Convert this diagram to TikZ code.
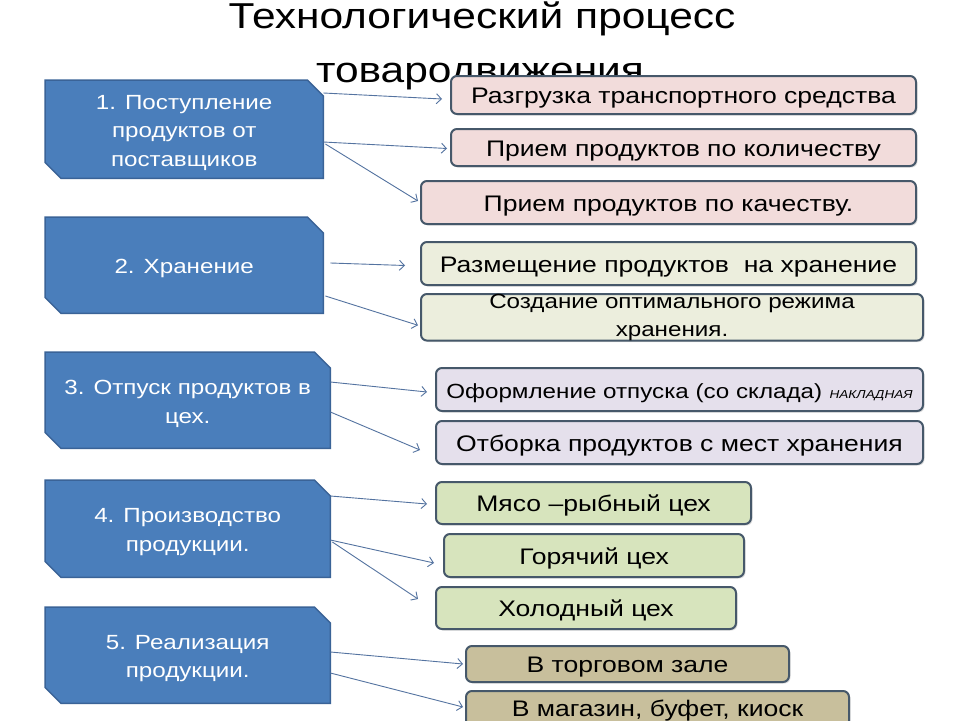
\documentclass[tikz,border=0pt]{standalone}
\usepackage{fontspec}
\setmainfont[FakeStretch=1.18]{Liberation Sans}
\usetikzlibrary{arrows.meta,calc,backgrounds,shadows}
\definecolor{lfill}{HTML}{4A7EBB}
\definecolor{ledge}{HTML}{3A6397}
\definecolor{rborder}{HTML}{46586A}
\definecolor{cpink}{HTML}{F2DCDB}
\definecolor{cbeige}{HTML}{ECEEDD}
\definecolor{clav}{HTML}{E5E0EC}
\definecolor{cgreen}{HTML}{D7E4BD}
\definecolor{ctan}{HTML}{C8BF9C}
\definecolor{carrow}{HTML}{5473A0}
\tikzset{
  lshape/.style={inner sep=0pt, anchor=north west},
  ltext/.style={inner sep=0pt, text=white, align=center,
    font=\fontsize{20.5}{28.5}\selectfont},
  rbox/.style={draw=rborder, line width=2pt, rounded corners=6pt, inner sep=0pt,
    anchor=north west, align=center, font=\fontsize{22.5}{28}\selectfont,
    drop shadow={shadow xshift=1.5pt, shadow yshift=-1.5pt, opacity=0.25}},
  rline/.style={rbox, text height=20pt, text depth=3pt},
  titletext/.style={anchor=base, font=\fontsize{36}{44}\selectfont},
  arr/.style={draw=carrow, line width=0.9pt, -{Straight Barb[length=5pt,width=10pt]}}
}
\newcommand\lbx[6]{% name, x, y, w, h, text
  \node[lshape, minimum width=#4pt, minimum height=#5pt] (#1) at (#2,#3) {};
  \begin{pgfonlayer}{background}
    \fill[lfill, draw=ledge, line width=1.5pt]
      (#1.north west) -- ($(#1.north east)+(-16,0)$) -- ($(#1.north east)+(0,16)$)
      -- (#1.south east) -- ($(#1.south west)+(16,0)$) -- ($(#1.south west)+(0,-16)$) -- cycle;
  \end{pgfonlayer}
  \node[ltext] (#1t) at ($(#1.center)+(0,3.5)$) {#6};}
\newcommand\rbx[7]{% name, colour, x, y, w, h, text
  \node[rline, fill=#2, minimum width=#5pt, minimum height=#6pt] (#1) at (#3,#4) {#7};}
\begin{document}
\begin{tikzpicture}[x=1pt,y=-1pt]
\begin{pgfonlayer}{background}
  \fill[white] (0,0) rectangle (960,720);
\end{pgfonlayer}
\useasboundingbox (0,0) rectangle (960,720);
% title
\node[titletext] (T1) at (482,28) {Технологический процесс};
\node[titletext] (T2) at (480,82) {товародвижения};
% left boxes
\lbx{L1}{45}{80}{278}{98}{1. Поступление\\продуктов от\\поставщиков}
\lbx{L2}{45}{217}{278}{96}{2. Хранение}
\lbx{L3}{45}{352}{285}{96}{3. Отпуск продуктов в\\цех.}
\lbx{L4}{45}{480}{285}{97}{4. Производство\\продукции.}
\lbx{L5}{45}{607}{285}{96}{5. Реализация\\продукции.}
% right boxes
\rbx{R1}{cpink}{450}{75}{465}{38}{Разгрузка транспортного средства}
\rbx{R2}{cpink}{450}{128}{465}{37}{Прием продуктов по количеству}
\rbx{R3}{cpink}{420}{180}{495}{43}{Прием продуктов по качеству.}
\rbx{R4}{cbeige}{420}{241}{495}{43}{Размещение продуктов\ \ на хранение}
\node[rbox, fill=cbeige, minimum width=502pt, minimum height=43pt,
  font=\fontsize{20.5}{28}\selectfont] (R5) at (420,293) {Создание оптимального режима\\хранения.};
\rbx{R6}{clav}{435}{367}{487}{43}{{\fontsize{20.5}{24}\selectfont Оформление отпуска (со склада)} {\fontsize{11.5}{13}\selectfont\itshape НАКЛАДНАЯ}}
\rbx{R7}{clav}{435}{420}{487}{43}{Отборка продуктов с мест хранения}
\rbx{R8}{cgreen}{435}{481}{315}{42}{Мясо –рыбный цех}
\rbx{R9}{cgreen}{443}{533}{300}{43}{Горячий цех}
\rbx{R10}{cgreen}{435}{586}{300}{42}{Холодный цех}
\rbx{R11}{ctan}{465}{645}{323}{36}{В торговом зале}
\node[rbox, fill=ctan, minimum width=383pt, minimum height=36pt,
  text height=17pt, text depth=3pt] (R12) at (465,690) {В магазин, буфет, киоск};
% connectors
\draw[arr] ($(L1.north east)+(0,13)$) -- ($(R1.west)+(-8,4)$);
\draw[arr] ($(L1.north east)+(0,62)$) -- ($(R2.west)+(-3,1)$);
\draw[arr] ($(L1.north east)+(2,64)$) -- ($(R3.west)+(-2,-1.5)$);
\draw[arr] ($(L2.north east)+(7,46)$) -- ($(R4.west)+(-15,2)$);
\draw[arr] ($(L2.north east)+(2,79)$) -- ($(R5.west)+(-2,8)$);
\draw[arr] ($(L3.north east)+(0,30)$) -- ($(R6.west)+(-8,2.5)$);
\draw[arr] ($(L3.north east)+(0,60)$) -- ($(R7.west)+(-15,7.5)$);
\draw[arr] ($(L4.north east)+(0,16)$) -- ($(R8.west)+(-8,1)$);
\draw[arr] ($(L4.north east)+(0,60)$) -- ($(R9.west)+(-9,7.5)$);
\draw[arr] ($(L4.north east)+(2,62)$) -- ($(R10.west)+(-17,-9)$);
\draw[arr] ($(L5.north east)+(0,45)$) -- ($(R11.west)+(-2,0)$);
\draw[arr] ($(L5.north east)+(0,66)$) -- ($(R12.west)+(-2,-2)$);
\end{tikzpicture}
\end{document}
